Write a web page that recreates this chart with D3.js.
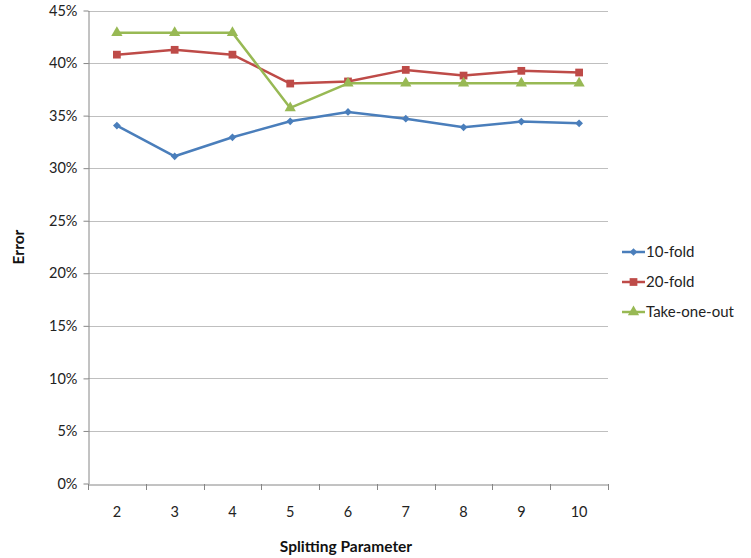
<!DOCTYPE html>
<html><head><meta charset="utf-8">
<script src="https://cdn.jsdelivr.net/npm/d3@7"></script>
<style>body{margin:0;background:#fff;} text{font-family:Lato,"Open Sans",sans-serif;}</style>
</head><body>
<svg id="c" width="751" height="558"></svg>
<script>
const categories = [2,3,4,5,6,7,8,9,10];
const tenFold = [34.05,31.13,32.94,34.46,35.35,34.71,33.89,34.43,34.27];
const twentyFold = [40.8,41.26,40.8,38.05,38.25,39.35,38.81,39.26,39.1];
const takeOneOut = [42.88,42.88,42.88,35.73,38.07,38.07,38.07,38.07,38.07];
const yTicks = [0,5,10,15,20,25,30,35,40,45];
const seriesNames = ["10-fold","20-fold","Take-one-out"];
const colors = ["#4A7EBB","#BE4B48","#98B954"];
const symbols = [d3.symbolSquare, d3.symbolSquare, d3.symbolTriangle];
const symRot = [45, 0, 0];
const symSizes = [30, 60, 55];

const svg = d3.select("#c");
const L=88, R=608, T=10.5, B=483.5;
const x = d3.scaleBand().domain(categories).range([L,R]);
const y = d3.scaleLinear().domain([0,45]).range([B,T]);

// gridlines
svg.append("g").selectAll("line").data(yTicks.filter(d=>d>0)).join("line")
  .attr("x1",L).attr("x2",R).attr("y1",d=>Math.round(y(d))+0.5).attr("y2",d=>Math.round(y(d))+0.5)
  .attr("stroke","#bfbfbf").attr("stroke-width",1);

// y axis
const ya = svg.append("g").attr("transform",`translate(${L+0.5},0)`)
  .call(d3.axisLeft(y).tickValues(yTicks).tickFormat(d=>d+"%").tickSize(5).tickSizeOuter(0));
ya.select(".domain").attr("stroke","#868686");
ya.selectAll(".tick line").attr("stroke","#868686");
ya.selectAll(".tick text").attr("font-size",14.5).attr("fill","#222").attr("dx","-3").attr("font-family","Lato,sans-serif");

// x axis
const xa = svg.append("g").attr("transform",`translate(0,${Math.round(B)+0.5})`)
  .call(d3.axisBottom(x).tickSize(0).tickSizeOuter(0));
xa.select(".domain").attr("stroke","#868686");
xa.selectAll(".tick text").attr("font-size",14.5).attr("fill","#222").attr("dy","2.05em").attr("font-family","Lato,sans-serif");
// band boundary ticks
const bounds = categories.map(c=>x(c)).concat([R]);
svg.append("g").selectAll("line").data(bounds).join("line")
  .attr("x1",d=>Math.round(d)+0.5).attr("x2",d=>Math.round(d)+0.5)
  .attr("y1",Math.round(B)).attr("y2",Math.round(B)+6).attr("stroke","#868686");

// axis titles
svg.append("text").attr("x",346).attr("y",552).attr("text-anchor","middle")
  .attr("font-size",15.5).attr("font-weight","bold").attr("fill","#111").text("Splitting Parameter");
svg.append("text").attr("transform","translate(24,247) rotate(-90)").attr("text-anchor","middle")
  .attr("font-size",15.5).attr("font-weight","bold").attr("fill","#111").text("Error");

const data = [tenFold, twentyFold, takeOneOut];
const cx = d => x(d)+x.bandwidth()/2;
const line = d3.line().x((d,i)=>cx(categories[i])).y(d=>y(d));
data.forEach((vals,s)=>{
  svg.append("path").datum(vals).attr("d",line).attr("fill","none")
    .attr("stroke",colors[s]).attr("stroke-width",2.5).attr("stroke-linejoin","round");
  svg.append("g").selectAll("path").data(vals).join("path")
    .attr("d",d3.symbol().type(symbols[s]).size(symSizes[s]))
    .attr("transform",(d,i)=>`translate(${cx(categories[i])},${y(d)}) rotate(${symRot[s]})`)
    .attr("fill",colors[s]);
});

// legend
const lg = svg.append("g");
seriesNames.forEach((n,s)=>{
  const yy = 252 + s*30;
  lg.append("line").attr("x1",622).attr("x2",645).attr("y1",yy).attr("y2",yy)
    .attr("stroke",colors[s]).attr("stroke-width",2.5);
  lg.append("path").attr("d",d3.symbol().type(symbols[s]).size(symSizes[s]))
    .attr("transform",`translate(633.5,${yy}) rotate(${symRot[s]})`).attr("fill",colors[s]);
  lg.append("text").attr("x",646).attr("y",yy+5).attr("font-size",15).attr("fill","#222").text(n);
});
</script>
</body></html>
